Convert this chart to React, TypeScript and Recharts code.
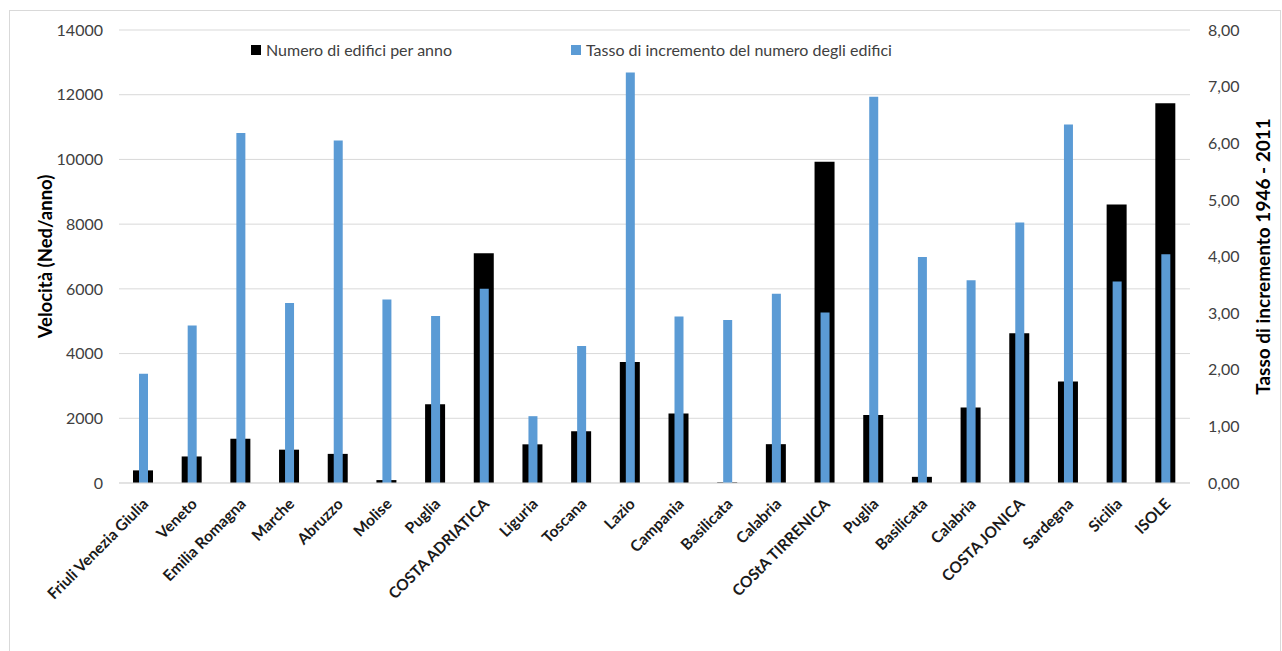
import React from 'react';
import { BarChart, Bar, XAxis, YAxis, CartesianGrid } from 'recharts';

const categories = [
  'Friuli Venezia Giulia', 'Veneto', 'Emilia Romagna', 'Marche', 'Abruzzo', 'Molise', 'Puglia',
  'COSTA ADRIATICA', 'Liguria', 'Toscana', 'Lazio', 'Campania', 'Basilicata', 'Calabria',
  'COStA TIRRENICA', 'Puglia', 'Basilicata', 'Calabria', 'COSTA JONICA', 'Sardegna', 'Sicilia', 'ISOLE',
];
const edificiPerAnno = [
  390, 820, 1370, 1030, 900, 90, 2430, 7100, 1195, 1600, 3740, 2150, 20, 1200,
  9930, 2100, 190, 2330, 4630, 3140, 8610, 11740,
];
const tassoIncremento = [
  1.93, 2.78, 6.18, 3.18, 6.05, 3.24, 2.95, 3.43, 1.18, 2.42, 7.25, 2.94, 2.88, 3.34,
  3.01, 6.82, 3.99, 3.58, 4.60, 6.33, 3.56, 4.04,
];
const leftTicks = [0, 2000, 4000, 6000, 8000, 10000, 12000, 14000];
const rightTicks = [0, 1, 2, 3, 4, 5, 6, 7, 8];

const data = categories.map((name, i) => ({
  key: `${i}`,
  name,
  edifici: edificiPerAnno[i],
  tasso: tassoIncremento[i],
}));

const FONT = 'Lato, "Open Sans", sans-serif';

function CatTick({ x, y, payload }: any) {
  const label = categories[Number(payload.value)];
  return (
    <text
      x={x + 6}
      y={y + 14}
      transform={`rotate(-45, ${x + 6}, ${y + 14})`}
      textAnchor="end"
      fontSize={15.5}
      fontWeight={700}
      fontFamily={FONT}
      fill="#1a1a1a"
    >
      {label}
    </text>
  );
}

export default function App() {
  return (
    <div style={{ position: 'absolute', left: 0, top: 0, width: 1282, height: 651, background: '#fff' }}>
      <div style={{ position: 'absolute', left: 9, top: 10, width: 1270, height: 650, border: '1px solid #d9d9d9' }} />
      <div style={{ position: 'absolute', left: 251, top: 40, display: 'flex', fontFamily: FONT, fontSize: 16, color: '#404040', zIndex: 2 }}>
        <div style={{ display: 'flex', alignItems: 'center', width: 320 }}>
          <span style={{ width: 10, height: 10, background: '#000', marginRight: 5 }} />
          Numero di edifici per anno
        </div>
        <div style={{ display: 'flex', alignItems: 'center' }}>
          <span style={{ width: 10, height: 10, background: '#5b9bd5', marginRight: 5 }} />
          Tasso di incremento del numero degli edifici
        </div>
      </div>
      <BarChart
        width={1282}
        height={651}
        data={data}
        margin={{ top: 30, right: 0, bottom: 0, left: 0 }}
      >
        <CartesianGrid yAxisId="left" vertical={false} stroke="#d9d9d9" />
        <XAxis
          xAxisId="a"
          dataKey="key"
          height={168}
          tick={<CatTick />}
          tickLine={false}
          axisLine={{ stroke: '#d9d9d9' }}
          interval={0}
        />
        <XAxis xAxisId="b" dataKey="key" hide />
        <YAxis
          yAxisId="left"
          width={119}
          domain={[0, 14000]}
          ticks={leftTicks}
          tickLine={false}
          axisLine={false}
          tickSize={0}
          tickMargin={16}
          tick={{ fontSize: 16, fill: '#404040', fontFamily: FONT }}
          label={{
            value: 'Velocità  (Ned/anno)',
            angle: -90,
            position: 'insideLeft',
            offset: 0,
            dx: 45,
            style: { fontSize: 18.5, fontWeight: 700, fill: '#000', fontFamily: FONT, textAnchor: 'middle' },
          }}
        />
        <YAxis
          yAxisId="right"
          orientation="right"
          width={92}
          domain={[0, 8]}
          ticks={rightTicks}
          tickLine={false}
          axisLine={false}
          tickSize={0}
          tickMargin={18}
          tickFormatter={(v: number) => v.toFixed(2).replace('.', ',')}
          tick={{ fontSize: 16, fill: '#404040', fontFamily: FONT, textAnchor: 'start' }}
          label={{
            value: 'Tasso di incremento 1946 - 2011',
            angle: -90,
            position: 'insideRight',
            offset: 0,
            dx: -19,
            style: { fontSize: 19, fontWeight: 700, fill: '#000', fontFamily: FONT, textAnchor: 'middle' },
          }}
        />
        <Bar
          xAxisId="a"
          yAxisId="left"
          dataKey="edifici"
          name="Numero di edifici per anno"
          fill="#000000"
          barSize={20}
          isAnimationActive={false}
        />
        <Bar
          xAxisId="b"
          yAxisId="right"
          dataKey="tasso"
          name="Tasso di incremento del numero degli edifici"
          fill="#5b9bd5"
          barSize={9}
          isAnimationActive={false}
        />
      </BarChart>
    </div>
  );
}
